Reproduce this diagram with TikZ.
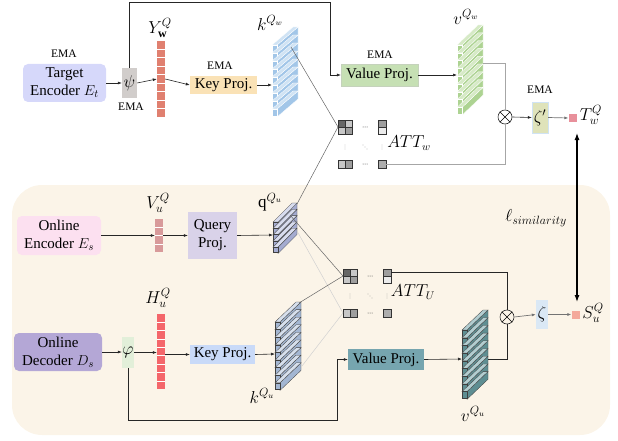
\documentclass[tikz,border=0pt]{standalone}
\usepackage{fontspec}
\setmainfont{Liberation Serif}
\usetikzlibrary{arrows.meta,calc}
\definecolor{bgbeige}{HTML}{FBF4E8}
\definecolor{tenc}{HTML}{D6D8FA}
\definecolor{psig}{HTML}{D1CDCB}
\definecolor{ybar}{HTML}{E08070}
\definecolor{kproj}{HTML}{FAE2B6}
\definecolor{vproj}{HTML}{C6E0B4}
\definecolor{zetap}{HTML}{DFE3BA}
\definecolor{tsq}{HTML}{E8909B}
\definecolor{oenc}{HTML}{FCE0F0}
\definecolor{vbar}{HTML}{D89A9A}
\definecolor{qproj}{HTML}{D9D2E9}
\definecolor{odec}{HTML}{B4A7D6}
\definecolor{phig}{HTML}{E2EFD9}
\definecolor{hbar}{HTML}{F4666A}
\definecolor{kprojb}{HTML}{C9DAF8}
\definecolor{vprojb}{HTML}{76A5AF}
\definecolor{zetab}{HTML}{DAE8F5}
\definecolor{ssq}{HTML}{F4A99B}
\definecolor{kwside}{HTML}{A2C6E8}
\definecolor{kwtop}{HTML}{D0E3F4}
\definecolor{vwside}{HTML}{ADD392}
\definecolor{vwtop}{HTML}{D6EAC6}
\definecolor{qside}{HTML}{A4ABD0}
\definecolor{qtop}{HTML}{D8DCEE}
\definecolor{kuside}{HTML}{A3B6D2}
\definecolor{kutop}{HTML}{D6DFEC}
\definecolor{vuside}{HTML}{5E8E92}
\definecolor{vutop}{HTML}{B2CDD0}

% x0, ytop, n, spacing, dx, dy, topcolor, sidecolor, edgecolor
\newcommand\drawstack[9]{%
  \foreach \i in {1,...,#3}{%
    \pgfmathsetmacro\yy{#2+(\i-1)*#4}%
    \filldraw[fill=#8,draw=#9,line width=0.3pt] (#1+5,\yy) -- ++(#5,-#6) -- ++(0,#4) -- (#1+5,\yy+#4) -- cycle;
    \filldraw[fill=#7,draw=#9,line width=0.3pt] (#1,\yy) -- ++(#5,-#6) -- ++(5,0) -- (#1+5,\yy) -- cycle;
    \filldraw[fill=#8,draw=#9,line width=0.3pt] (#1,\yy) rectangle ++(5,#4-1.2);
  }%
}
% name, x, y
\newcommand\attgrid[3]{%
  \begin{scope}[shift={(#2,#3)},line width=0.5pt]
    \filldraw[fill=black!60,draw=black!80] (0,0) rectangle (7,7);
    \filldraw[fill=black!22,draw=black!80] (7,0) rectangle (14,7);
    \filldraw[fill=black!22,draw=black!80] (0,7) rectangle (7,14);
    \filldraw[fill=black!38,draw=black!80] (7,7) rectangle (14,14);
    \filldraw[fill=black!38,draw=black!80] (40,0) rectangle (48,7);
    \filldraw[fill=black!8,draw=black!80] (40,7) rectangle (48,14);
    \filldraw[fill=black!22,draw=black!80] (0,40) rectangle (7,48);
    \filldraw[fill=black!38,draw=black!80] (7,40) rectangle (14,48);
    \filldraw[fill=black!32,draw=black!80] (40,40) rectangle (48,48);
    \foreach \d in {-2,0,2}{%
      \fill[black!70] (27+\d,7) circle (0.5);
      \fill[black!70] (27+\d,44) circle (0.5);
      \fill[black!50] (7,27+\d) circle (0.45);
      \fill[black!50] (44,27+\d) circle (0.45);
      \fill[black!60] (27+\d,27+\d) circle (0.45);
    }
    \coordinate (#1-tl) at (0,7);
    \coordinate (#1-tr) at (48,3.5);
    \coordinate (#1-bl) at (0,44);
    \coordinate (#1-br) at (48,44);
  \end{scope}%
}

\begin{document}
\begin{tikzpicture}[x=1pt,y=-1pt,
  font=\fontsize{15}{18}\selectfont,
  box/.style={rectangle,inner sep=0pt,align=center},
  rbox/.style={box,rounded corners=5pt},
  gbox/.style={box,font=\fontsize{18}{20}\selectfont},
  ema/.style={font=\fontsize{11.5}{13}\selectfont},
  lab/.style={font=\fontsize{17}{19}\selectfont,inner sep=0pt},
  arr/.style={-{Latex[length=4pt,width=3pt]},line width=0.6pt,draw=black!85},
  plain/.style={line width=0.6pt,draw=black!85},
  garr/.style={-{Latex[length=4pt,width=3pt]},line width=0.7pt,draw=black!55},
  gline/.style={line width=0.8pt,draw=black!35},
  tie/.style={line width=0.5pt,draw=black!60},
  ltie/.style={line width=0.5pt,draw=black!18},
  cellsep/.style={white,line width=0.6pt}]
\useasboundingbox (0,0) rectangle (618,441);
\fill[bgbeige,rounded corners=30pt] (12,185) rectangle (610,435);

% ---------------- top branch ----------------
\node[rbox,fill=tenc,minimum width=83pt,minimum height=38pt] (TE) at (64.5,83) {Target\\Encoder $E_t$};
\node[ema] (ema1) at (64,54) {EMA};
\node[gbox,fill=psig,minimum width=15pt,minimum height=30pt] (psi) at (129.5,83) {$\psi$};
\node[ema] (ema2) at (131,107) {EMA};
\node[box,fill=ybar,minimum width=8pt,minimum height=76pt] (Y) at (161,79) {};
\foreach \k in {1,...,8}
  \draw[cellsep] ($(Y.north west)!\k/9!(Y.south west)$) -- ($(Y.north east)!\k/9!(Y.south east)$);
\node[lab] (Ylab) at (160,28) {$Y_{\mathbf{w}}^{Q}$};
\node[box,fill=kproj,minimum width=67pt,minimum height=18pt] (KPw) at (223.5,85) {Key Proj.};
\node[ema] (ema3) at (220,66) {EMA};
\node[box,fill=vproj,draw=vproj!80!black!60,line width=0.3pt,minimum width=77pt,minimum height=22pt] (VPw) at (379.5,75) {Value Proj.};
\node[ema] (ema4) at (380,55) {EMA};

\drawstack{272}{45}{9}{8}{21}{18}{kwtop}{kwside}{white}
\coordinate (kw-in) at (272,85);
\coordinate (kw-out) at (291,47);
\node[lab] (kwlab) at (270,23) {$k^{Q_w}$};

\drawstack{457}{45}{9}{7.8}{21}{20}{vwtop}{vwside}{white}
\coordinate (vw-in) at (457,75);
\coordinate (vw-out) at (483,63);
\node[lab] (vwlab) at (466,17) {$v^{Q_w}$};

\attgrid{aw}{338}{120}
\node[lab,font=\fontsize{16}{18}\selectfont] (ATTw) at (409,143) {$ATT_w$};

\node[circle,draw=black!85,line width=0.6pt,minimum size=14pt,inner sep=0pt] (ow) at (505,117) {};
\draw[line width=0.6pt] (ow.north west) -- (ow.south east) (ow.north east) -- (ow.south west);
\node[gbox,fill=zetap,draw=kwtop,line width=0.4pt,minimum width=16pt,minimum height=31pt] (zp) at (540,117.5) {$\zeta'$};
\node[ema] (ema5) at (540,90) {EMA};
\node[box,fill=tsq,minimum width=8pt,minimum height=8pt] (Tsq) at (572.5,118) {};
\node[lab] (Tlab) at (591,115) {$T_w^Q$};

% top connectors
\coordinate (c1) at (330,2);
\draw[arr] (TE.east) -- (psi.west);
\draw[arr] (psi.east) -- (Y.west);
\draw[arr] (Y.east) -- (KPw.west);
\draw[arr] (KPw.east) -- (kw-in);
\draw[arr] (psi.north) |- (c1) |- (VPw.west);
\draw[arr] (VPw.east) -- (vw-in);
\draw[gline] (vw-out) -| (ow.north);
\draw[gline] (aw-br) -| (ow.south);
\draw[arr] (ow.east) -- (zp.west);
\draw[garr] (zp.east) -- (Tsq.west);
\draw[tie] (kw-out) -- (aw-tl);

% ---------------- bottom branch ----------------
\node[rbox,fill=oenc,minimum width=84pt,minimum height=39pt] (OE) at (59,235.5) {Online\\Encoder $E_s$};
\node[box,fill=vbar,minimum width=8pt,minimum height=33pt] (V) at (159,235.5) {};
\foreach \k in {1,...,3}
  \draw[cellsep] ($(V.north west)!\k/4!(V.south west)$) -- ($(V.north east)!\k/4!(V.south east)$);
\node[lab] (Vlab) at (158,203) {$V_u^Q$};
\node[box,fill=qproj,minimum width=49pt,minimum height=47pt] (QP) at (212.5,235.5) {Query\\Proj.};

\drawstack{273}{222}{5}{6.3}{19}{19}{qtop}{qside}{black!75}
\coordinate (q-in) at (273,235);
\coordinate (q-a) at (297,204);
\coordinate (q-b) at (290,215);
\coordinate (q-c) at (297,231);
\node[lab] (qlab) at (270,202) {$\mathrm{q}^{Q_u}$};

\node[rbox,fill=odec,minimum width=88pt,minimum height=38pt] (OD) at (58,352) {Online\\Decoder $D_s$};
\node[gbox,fill=phig,minimum width=12pt,minimum height=31pt] (phi) at (128,352.5) {$\varphi$};
\node[box,fill=hbar,minimum width=8pt,minimum height=75pt] (H) at (161,351.5) {};
\foreach \k in {1,...,8}
  \draw[cellsep] ($(H.north west)!\k/9!(H.south west)$) -- ($(H.north east)!\k/9!(H.south east)$);
\node[lab] (Hlab) at (158,298) {$H_u^Q$};
\node[box,fill=kprojb,minimum width=65pt,minimum height=19pt] (KPu) at (222.5,354.5) {Key Proj.};

\drawstack{275}{322}{9}{7.6}{21}{20}{kutop}{kuside}{black!75}
\coordinate (ku-in) at (275,354);
\coordinate (ku-a) at (299,303);
\coordinate (ku-b) at (302,366);
\node[lab] (kulab) at (262,396) {$k^{Q_u}$};

\node[box,fill=vprojb,minimum width=76pt,minimum height=21pt] (VPu) at (386,359.5) {Value Proj.};
\drawstack{462}{330}{9}{7.7}{21}{20}{vutop}{vuside}{black!75}
\coordinate (vu-in) at (462,359);
\coordinate (vu-out) at (488,359);
\node[lab] (vulab) at (473,414) {$v^{Q_u}$};

\attgrid{au}{343}{269}
\node[lab,font=\fontsize{16}{18}\selectfont] (ATTu) at (413,292) {$ATT_U$};

\node[circle,draw=black!85,line width=0.6pt,minimum size=14pt,inner sep=0pt] (ou) at (507,317) {};
\draw[line width=0.6pt] (ou.north west) -- (ou.south east) (ou.north east) -- (ou.south west);
\node[gbox,fill=zetab,minimum width=12pt,minimum height=29pt] (zb) at (542,314.5) {$\zeta$};
\node[box,fill=ssq,minimum width=8pt,minimum height=8pt] (Ssq) at (575.5,314.5) {};
\node[lab] (Slab) at (593,313) {$S_u^Q$};
\node[lab] (lsim) at (536,218) {$\ell_{similarity}$};

% bottom connectors
\coordinate (c2) at (337,420);
\draw[arr] (OE.east) -- (V.west |- OE.east);
\draw[arr] (V.east) -- (QP.west |- V.east);
\draw[arr] (QP.east) -- (q-in);
\draw[arr] (OD.east) -- (phi.west |- OD.east);
\draw[arr] (phi.east) -- (H.west |- phi.east);
\draw[arr] (H.east |- KPu.west) -- (KPu.west);
\draw[arr] (KPu.east) -- (ku-in);
\draw[arr] (phi.south) |- (c2) |- (VPu.west);
\draw[arr] (VPu.east) -- (vu-in);
\draw[plain] (vu-out) -| (ou.south);
\draw[plain] (au-tr) -| (ou.north);
\draw[garr] (ou.east) -- (zb.west);
\draw[garr] (zb.east) -- (Ssq.west);

\draw[tie] (q-a) -- (aw-tl);
\draw[tie] (q-b) -- (au-tl);
\draw[ltie] (q-c) -- (au-bl);
\draw[tie] (ku-a) -- (au-tl);
\draw[ltie] (ku-b) -- (au-bl);

% similarity link
\coordinate (simT) at (577,133);
\coordinate (simS) at (577,302);
\draw[{Latex[length=7pt,width=5pt]}-{Latex[length=7pt,width=5pt]},line width=1.2pt] (simT) -- (simS);
\end{tikzpicture}
\end{document}
